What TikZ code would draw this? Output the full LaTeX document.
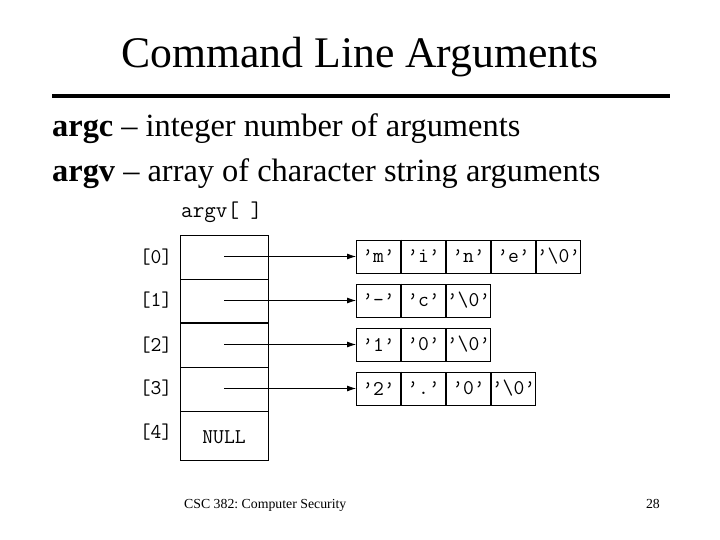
\documentclass[tikz,border=0pt]{standalone}
\usepackage{fontspec}
\setmainfont{Liberation Serif}
\usetikzlibrary{arrows.meta}
\frenchspacing
\begin{document}
\begin{tikzpicture}[x=1pt,y=-1pt,
  acell/.style={draw,line width=1pt,minimum width=88pt,minimum height=44pt,inner sep=0pt,anchor=north west},
  ch/.style={draw,line width=1pt,minimum width=44pt,minimum height=33pt,inner sep=0pt,
    font=\ttfamily\fontsize{21}{21}\selectfont,anchor=west},
  idx/.style={font=\ttfamily\fontsize{21}{21}\selectfont,inner sep=0pt},
  ptr/.style={line width=0.8pt,-{Latex[length=9pt,width=6pt]}},
  thickdiv/.style={line width=2pt}
]
\useasboundingbox (0,0) rectangle (720,540);

% title
\node[anchor=base,inner sep=0pt,font=\fontsize{43.7}{44}\selectfont] (title) at (360,68) {Command Line Arguments};
\coordinate (rl) at (52,96);
\coordinate (rr) at (670,96);
\draw[line width=4pt] (rl) -- (rr);

% bullets
\node[anchor=base west,inner sep=0pt,font=\fontsize{32.4}{33}\selectfont] (l1) at (52,137) {\textbf{argc} – integer number of arguments};
\node[anchor=base west,inner sep=0pt,font=\fontsize{32.4}{33}\selectfont] (l2) at (52,182) {\textbf{argv} – array of character string arguments};

% argv label
\node[anchor=base west,inner sep=0pt,font=\ttfamily\fontsize{22.5}{22.5}\selectfont] (argv) at (181,218) {argv[ ]};

% array cells
\node[acell] (a0) at (180,235) {};
\node[acell] (a1) at (180,279) {};
\node[acell] (a2) at (180,323) {};
\node[acell] (a3) at (180,367) {};
\node[acell,minimum height=49pt] (a4) at (180,411) {};
\draw[thickdiv] (a2.north west) -- (a2.north east);
\node[idx] at (224,437) (null) {NULL};

% index labels
\node[idx] (i0) at (156,257) {[0]};
\node[idx] (i1) at (156,300) {[1]};
\node[idx] (i2) at (156,345) {[2]};
\node[idx] (i3) at (156,388) {[3]};
\node[idx] (i4) at (156,432) {[4]};

% strings
\node[ch] (s0a) at (356,256.5) {’m’};
\node[ch] (s0b) at (s0a.east) {’i’};
\node[ch] (s0c) at (s0b.east) {’n’};
\node[ch] (s0d) at (s0c.east) {’e’};
\node[ch] (s0e) at (s0d.east) {’\textbackslash0’};

\node[ch] (s1a) at (356,300.5) {’-’};
\node[ch] (s1b) at (s1a.east) {’c’};
\node[ch] (s1c) at (s1b.east) {’\textbackslash0’};

\node[ch] (s2a) at (356,344.5) {’1’};
\node[ch] (s2b) at (s2a.east) {’0’};
\node[ch] (s2c) at (s2b.east) {’\textbackslash0’};

\node[ch] (s3a) at (356,388.5) {’2’};
\node[ch] (s3b) at (s3a.east) {’.’};
\node[ch] (s3c) at (s3b.east) {’0’};
\node[ch] (s3d) at (s3c.east) {’\textbackslash0’};

\foreach \r in {0,1,2,3}{
  \draw[thickdiv] (s\r a.north east) -- (s\r a.south east);
}

% pointers
\coordinate (p0) at (224,256.5);
\coordinate (p1) at (224,300.5);
\coordinate (p2) at (224,344.5);
\coordinate (p3) at (224,388.5);
\draw[ptr] (p0) -- (s0a.west);
\draw[ptr] (p1) -- (s1a.west);
\draw[ptr] (p2) -- (s2a.west);
\draw[ptr] (p3) -- (s3a.west);

% footer
\node[anchor=base west,inner sep=0pt,font=\fontsize{13.8}{14}\selectfont] (foot) at (184,508) {CSC 382: Computer Security};
\node[anchor=base east,inner sep=0pt,font=\fontsize{13.8}{14}\selectfont] (page) at (660,508) {28};
\end{tikzpicture}
\end{document}
